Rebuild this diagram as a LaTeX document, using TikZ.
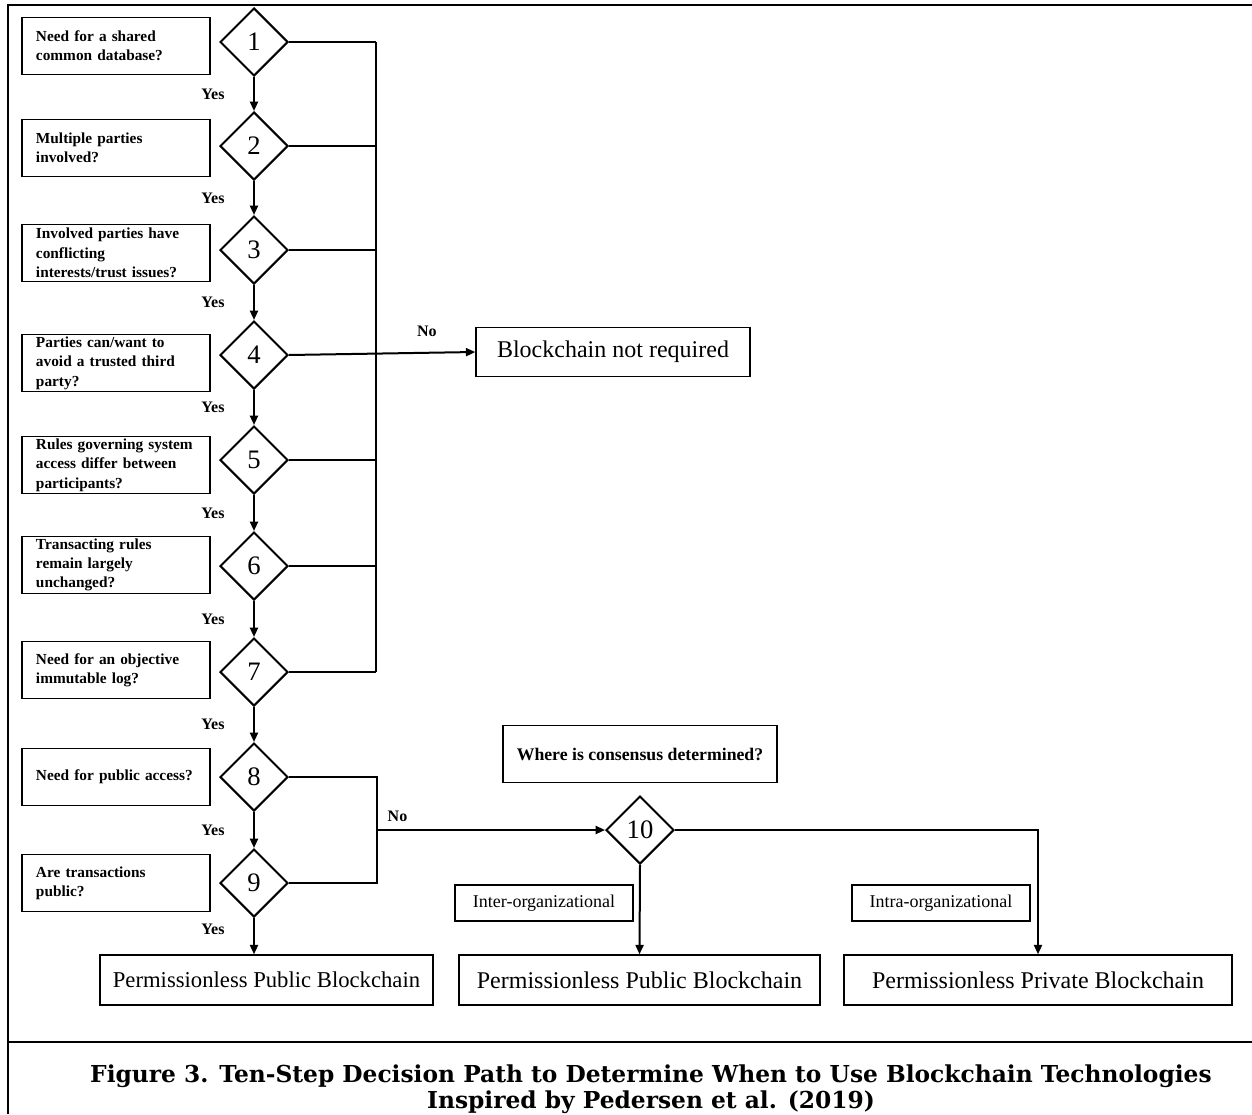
\documentclass[tikz,border=0pt]{standalone}
\usepackage{fontspec}
\setmainfont{Liberation Serif}
\newfontfamily\capfont{DejaVu Serif}
\usetikzlibrary{shapes.geometric,arrows.meta}

\begin{document}
\begin{tikzpicture}[x=0.75pt,y=-0.75pt,
	>={Triangle[length=7pt,width=6pt]},
	question/.style={draw, line width=1.1pt, rectangle, text width=120pt, inner xsep=10.5pt, inner ysep=0pt, minimum height=42.75pt, align=left, font=\bfseries\fontsize{11.5}{14.5}\selectfont},
	decision/.style={draw, line width=1.5pt, diamond, aspect=1, minimum size=51pt, inner sep=0pt, font=\fontsize{20}{24}\selectfont},
	outcome/.style={draw, line width=1.1pt, rectangle, minimum height=37.5pt, inner sep=0pt, font=\fontsize{18}{22}\selectfont},
	tag/.style={draw, line width=1.1pt, rectangle, minimum width=133.5pt, minimum height=27pt, inner sep=0pt, font=\fontsize{13.5}{15}\selectfont},
	answer/.style={font=\bfseries\fontsize{12}{14}\selectfont},
	caption/.style={anchor=base, inner sep=0pt, font=\capfont\bfseries\fontsize{17.5}{20}\selectfont},
	flow/.style={line width=1.5pt}]
	\useasboundingbox (0,0) rectangle (1252,1114);

	% frame
	\draw[line width=2pt] (8,1114) -- (8,5) -- (1252,5);
	\draw[line width=2pt] (8,1042) -- (1252,1042);

	% questions
	\node[question] (q1) at (116,46) {Need for a shared\\common database?};
	\node[question] (q2) at (116,148) {Multiple parties\\involved?};
	\node[question] (q3) at (116,253) {Involved parties have\\conflicting\\interests/trust issues?};
	\node[question] (q4) at (116,363) {Parties can/want to\\avoid a trusted third\\party?};
	\node[question] (q5) at (116,465) {Rules governing system\\access differ between\\participants?};
	\node[question] (q6) at (116,565) {Transacting rules\\remain largely\\unchanged?};
	\node[question] (q7) at (116,670) {Need for an objective\\immutable log?};
	\node[question] (q8) at (116,777) {Need for public access?};
	\node[question] (q9) at (116,883) {Are transactions\\public?};

	% decisions
	\node[decision] (d1) at (254,42) {1};
	\node[decision] (d2) at (254,146) {2};
	\node[decision] (d3) at (254,250) {3};
	\node[decision] (d4) at (254,355) {4};
	\node[decision] (d5) at (254,460) {5};
	\node[decision] (d6) at (254,566) {6};
	\node[decision] (d7) at (254,672) {7};
	\node[decision] (d8) at (254,777) {8};
	\node[decision] (d9) at (254,883) {9};
	\node[decision] (d10) at (640,830) {10};

	% outcomes
	\node[outcome, minimum width=205.5pt, minimum height=36.75pt] (nreq) at (613,352) {Blockchain not required};
	\node[outcome, minimum width=249.75pt, font=\fontsize{17}{21}\selectfont] (pubA) at (266.5,980) {Permissionless Public Blockchain};
	\node[outcome, minimum width=270.75pt] (pubB) at (639.5,980) {Permissionless Public Blockchain};
	\node[outcome, minimum width=291pt] (pvt) at (1038,980) {Permissionless Private Blockchain};

	\node[draw, line width=1.1pt, minimum width=205.5pt, minimum height=42.75pt, font=\bfseries\fontsize{13.3}{15}\selectfont] (where) at (640,754) {Where is consensus determined?};
	\node[tag] (inter) at (544,903) {Inter-organizational};
	\node[tag] (intra) at (941,903) {Intra-organizational};

	% yes path
	\draw[flow,->] (d1) -- node[answer, left=18pt] {Yes} (d2);
	\draw[flow,->] (d2) -- node[answer, left=18pt] {Yes} (d3);
	\draw[flow,->] (d3) -- node[answer, left=18pt] {Yes} (d4);
	\draw[flow,->] (d4) -- node[answer, left=18pt] {Yes} (d5);
	\draw[flow,->] (d5) -- node[answer, left=18pt] {Yes} (d6);
	\draw[flow,->] (d6) -- node[answer, left=18pt] {Yes} (d7);
	\draw[flow,->] (d7) -- node[answer, left=18pt] {Yes} (d8);
	\draw[flow,->] (d8) -- node[answer, left=18pt] {Yes} (d9);
	\draw[flow,->] (d9.south) -- node[answer, left=18pt, pos=.3] {Yes} (d9.south |- pubA.north);

	% no path, steps 1-7
	\coordinate (bus) at (376,0);
	\draw[flow] (d1.east) -- (d1.east -| bus);
	\draw[flow] (d2.east) -- (d2.east -| bus);
	\draw[flow] (d3.east) -- (d3.east -| bus);
	\draw[flow] (d5.east) -- (d5.east -| bus);
	\draw[flow] (d6.east) -- (d6.east -| bus);
	\draw[flow] (d7.east) -- (d7.east -| bus);
	\draw[flow] (d1.east -| bus) -- (d7.east -| bus);
	\draw[flow,->] (d4.east) -- node[answer, pos=.74, above=8pt] {No} (nreq.west);

	% no path, steps 8-9
	\coordinate (join) at (377,0);
	\draw[flow] (d8.east) -- (d8.east -| join) -- (d9.east -| join) -- (d9.east);
	\draw[flow,->] (d10.west -| join) -- node[answer, pos=.09, above=2pt] {No} (d10.west);
	\draw[flow,->] (d10.south) -- (pubB.north);
	\draw[flow,->] (d10.east) -| (pvt.north);

	% caption
	\node[caption] (cap1) at (651,1082) {Figure 3. Ten-Step Decision Path to Determine When to Use Blockchain Technologies};
	\node[caption] (cap2) at (651,1108) {Inspired by Pedersen et al. (2019)};
\end{tikzpicture}
\end{document}
